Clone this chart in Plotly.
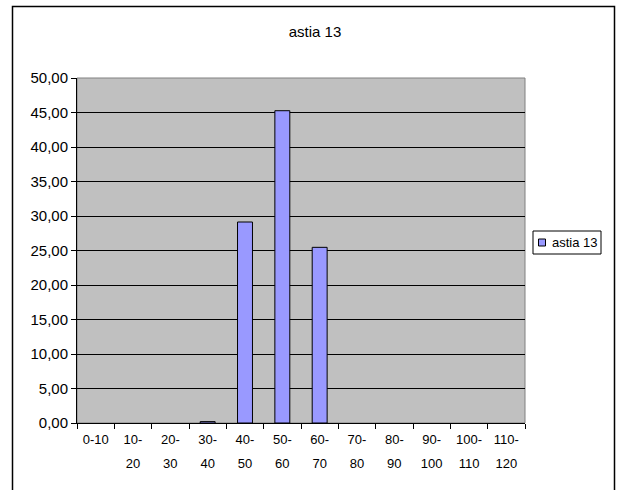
import plotly.graph_objects as go

categories = ["0-10", "10-20", "20-30", "30-40", "40-50", "50-60",
              "60-70", "70-80", "80-90", "90-100", "100-110", "110-120"]
tick_line1 = ["0-10", "10-", "20-", "30-", "40-", "50-",
              "60-", "70-", "80-", "90-", "100-", "110-"]
tick_line2 = ["", "20", "30", "40", "50", "60",
              "70", "80", "90", "100", "110", "120"]
values = [0, 0, 0, 0.2, 29.13, 45.26, 25.46, 0, 0, 0, 0, 0]
series_name = "astia 13"
chart_title = "astia 13"
y_ticks = [0, 5, 10, 15, 20, 25, 30, 35, 40, 45, 50]

W, H = 623, 490
L, R, T, B = 77, 525, 78, 423
BAR_COLOR = "#9999FF"

def px(x):
    return (x - L) / (R - L)

def py(y):
    return (B - y) / (B - T)

# empty classes are drawn as no bar at all (as in the reference)
plot_values = [v if v > 0 else None for v in values]
positions = list(range(len(categories)))

fig = go.Figure()
fig.add_trace(go.Bar(
    x=categories, y=plot_values, name=series_name,
    marker=dict(color=BAR_COLOR, line=dict(color="black", width=1)),
    showlegend=False,
))
# invisible companion trace that carries the second line of the category labels
fig.add_trace(go.Scatter(
    x=positions, y=plot_values, xaxis="x2", mode="none",
    showlegend=False, hoverinfo="skip",
))

font = "Liberation Sans, Arial, sans-serif"

fig.update_layout(
    width=W, height=H,
    margin=dict(l=L, r=W - R, t=T, b=H - B, pad=0),
    paper_bgcolor="white",
    plot_bgcolor="#C0C0C0",
    separators=",.",
    bargap=0.6,
    font=dict(family=font, size=13, color="black"),
    title=dict(text=chart_title, x=315 / W, xanchor="center",
               y=1 - 32 / H, yanchor="middle", xref="container", yref="container",
               font=dict(family=font, size=15, color="black")),
    xaxis=dict(
        type="category", categoryarray=categories, tickmode="array",
        tickvals=categories, ticktext=tick_line1,
        tickson="boundaries", ticks="outside", ticklen=5,
        tickcolor="black", showgrid=False, showline=True, linecolor="black",
        linewidth=1, tickfont=dict(size=13), tickangle=0, automargin=False,
        ticklabelstandoff=4,
    ),
    xaxis2=dict(
        overlaying="x", anchor="y", side="bottom",
        range=[-0.5, len(categories) - 0.5],
        tickmode="array", tickvals=positions, ticktext=tick_line2,
        ticks="", showgrid=False, showline=False, zeroline=False,
        tickfont=dict(size=13), tickangle=0, automargin=False,
        ticklabelstandoff=31,
    ),
    yaxis=dict(
        range=[0, 50], tickvals=y_ticks, tickformat=".2f", ticks="outside",
        ticklen=5, tickcolor="black", showgrid=True, gridcolor="black",
        gridwidth=1, showline=True, linecolor="black", linewidth=1,
        zeroline=False, tickfont=dict(size=15), automargin=False,
    ),
    showlegend=False,
    shapes=[
        # plot area border
        dict(type="rect", xref="paper", yref="paper", x0=0, x1=1, y0=0, y1=1,
             line=dict(color="#808080", width=1), layer="below"),
        # chart frame
        dict(type="rect", xref="paper", yref="paper",
             x0=px(12.5), x1=px(614.5), y0=py(6.5), y1=py(492),
             line=dict(color="black", width=1.5), fillcolor="rgba(0,0,0,0)"),
        # legend box
        dict(type="rect", xref="paper", yref="paper",
             x0=px(533), x1=px(601), y0=py(231), y1=py(254),
             line=dict(color="black", width=1), fillcolor="white"),
        # legend key
        dict(type="rect", xref="paper", yref="paper",
             x0=px(538.5), x1=px(545.5), y0=py(239), y1=py(246),
             line=dict(color="black", width=1), fillcolor=BAR_COLOR),
    ],
    annotations=[
        dict(text=series_name, xref="paper", yref="paper", x=px(550), y=py(242.5),
             xanchor="left", yanchor="middle", showarrow=False,
             font=dict(family=font, size=13, color="black")),
    ],
)

fig.write_html(
    "out.html",
    config={"displayModeBar": False},
    post_script="document.body.style.margin='0';document.body.style.overflow='hidden';",
)
